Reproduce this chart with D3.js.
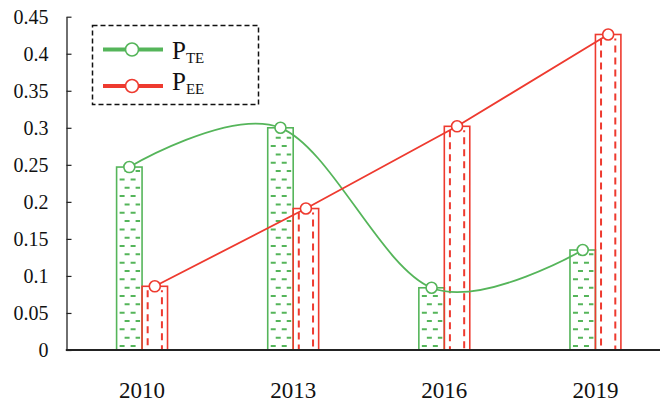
<!DOCTYPE html>
<html>
<head>
<meta charset="utf-8">
<script src="https://cdn.jsdelivr.net/npm/d3@7"></script>
<style>
  body { margin: 0; background: #fff; }
  svg text { font-family: "Liberation Serif", "Times New Roman", Times, "DejaVu Serif", serif !important; }
</style>
</head>
<body>
<svg id="chart" width="660" height="403"></svg>
<script>
const years = ["2010", "2013", "2016", "2019"];
const pTE = [0.247, 0.3, 0.084, 0.135];
const pEE = [0.086, 0.191, 0.302, 0.426];
const yTicks = [0, 0.05, 0.1, 0.15, 0.2, 0.25, 0.3, 0.35, 0.4, 0.45];
const seriesNames = ["TE", "EE"];

const green = "#55b55a",
    red = "#ee3a2f";

const plotLeft = 66.5,
    plotBottom = 350,
    plotTop = 16.7;

let svg = d3.select("#chart");

let y = d3.scaleLinear().domain([0, 0.45]).range([plotBottom, plotTop]);
// plot runs past the right edge of the picture
let x0 = d3.scaleBand().domain(years).range([plotLeft, 671])
    .paddingInner(0.663).paddingOuter(0.3315);
let x1 = d3.scaleBand().domain(seriesNames).range([0, x0.bandwidth()]);

// y axis, ticks pointing inward
let yAxis = svg.append("g")
    .attr("transform", "translate(" + plotLeft + ",0)")
    .call(d3.axisLeft(y).tickValues(yTicks).tickSizeInner(-5).tickSizeOuter(0)
      .tickPadding(18).tickFormat(d => String(d)));
yAxis.attr("font-family", null);
yAxis.select(".domain").attr("stroke", "#222").attr("stroke-width", 1.3);
yAxis.selectAll(".tick line").attr("stroke", "#222").attr("stroke-width", 1.2);
yAxis.selectAll("text").attr("font-size", 20).attr("fill", "#111");

let xAxis = svg.append("g")
    .attr("transform", "translate(0," + plotBottom + ")")
    .call(d3.axisBottom(x0).tickSize(0).tickPadding(32));
xAxis.attr("font-family", null);
xAxis.select(".domain").remove();
xAxis.selectAll("text").attr("font-size", 23).attr("fill", "#111");

// bars
let bars = [];
years.forEach((yr, i) => {
  bars.push({ year: yr, key: "TE", value: pTE[i] });
  bars.push({ year: yr, key: "EE", value: pEE[i] });
});

let barG = svg.append("g");
bars.forEach(b => {
  let bx = x0(b.year) + x1(b.key),
      bw = x1.bandwidth(),
      by = y(b.value);
  let col = b.key === "TE" ? green : red;
  let g = barG.append("g");
  if (b.key === "TE") {
    // rows of short horizontal dashes
    let k = 0;
    for (let ry = plotBottom - 4; ry > by + 4; ry -= 8.33) {
      g.append("line")
        .attr("x1", bx + 3).attr("x2", bx + bw - 2)
        .attr("y1", ry).attr("y2", ry)
        .attr("stroke", col).attr("stroke-width", 2)
        .attr("stroke-dasharray", "5,6")
        .attr("stroke-dashoffset", k % 2 ? 6 : 0);
      k++;
    }
  } else {
    [0.22, 0.78].forEach((f, j) => {
      g.append("line")
        .attr("x1", bx + bw * f).attr("x2", bx + bw * f)
        .attr("y1", by + 4).attr("y2", plotBottom)
        .attr("stroke", col).attr("stroke-width", 2)
        .attr("stroke-dasharray", "7,5")
        .attr("stroke-dashoffset", j ? 5 : 0);
    });
  }
  g.append("rect")
    .attr("x", bx).attr("y", by)
    .attr("width", bw).attr("height", plotBottom - by)
    .attr("fill", "none")
    .attr("stroke", col).attr("stroke-width", 1.6);
});

// lines with markers at bar centres
let teX = (d, i) => x0(years[i]) + x1("TE") + x1.bandwidth() / 2;
let eeX = (d, i) => x0(years[i]) + x1("EE") + x1.bandwidth() / 2;
let teLine = d3.line().curve(d3.curveCardinal.tension(0)).x(teX).y(d => y(d));
let eeLine = d3.line().x(eeX).y(d => y(d));

svg.append("path").attr("d", teLine(pTE))
    .attr("fill", "none").attr("stroke", green).attr("stroke-width", 1.8);
svg.append("path").attr("d", eeLine(pEE))
    .attr("fill", "none").attr("stroke", red).attr("stroke-width", 1.8);

svg.selectAll(".dot-te").data(pTE).enter().append("circle")
    .attr("class", "dot-te")
    .attr("cx", teX)
    .attr("cy", d => y(d))
    .attr("r", 5.5)
    .attr("fill", "#fff").attr("stroke", green).attr("stroke-width", 1.6);
svg.selectAll(".dot-ee").data(pEE).enter().append("circle")
    .attr("class", "dot-ee")
    .attr("cx", eeX)
    .attr("cy", d => y(d))
    .attr("r", 5.5)
    .attr("fill", "#fff").attr("stroke", red).attr("stroke-width", 1.6);

// bottom axis line drawn over the bars
svg.append("line")
    .attr("x1", plotLeft - 0.7).attr("x2", 660)
    .attr("y1", plotBottom).attr("y2", plotBottom)
    .attr("stroke", "#222").attr("stroke-width", 2);

// legend
let legend = svg.append("g");
legend.append("rect")
    .attr("x", 92.5).attr("y", 25.5).attr("width", 166).attr("height", 79)
    .attr("fill", "#fff").attr("stroke", "#111").attr("stroke-width", 1.5)
    .attr("stroke-dasharray", "5,3");

let legendItems = [
  { key: "TE", color: green, ly: 49.5, ty: 59 },
  { key: "EE", color: red, ly: 86, ty: 90 }
];
legendItems.forEach(it => {
  legend.append("line")
    .attr("x1", 103).attr("x2", 163).attr("y1", it.ly).attr("y2", it.ly)
    .attr("stroke", it.color).attr("stroke-width", 4);
  legend.append("circle")
    .attr("cx", 132).attr("cy", it.ly).attr("r", 6.5)
    .attr("fill", "#fff").attr("stroke", it.color).attr("stroke-width", 1.6);
  let t = legend.append("text")
    .attr("x", 172).attr("y", it.ty)
    .attr("font-size", 25).attr("fill", "#111");
  t.append("tspan").text("P");
  t.append("tspan").attr("font-size", 15).attr("dy", 4).text(it.key);
});
</script>
</body>
</html>
